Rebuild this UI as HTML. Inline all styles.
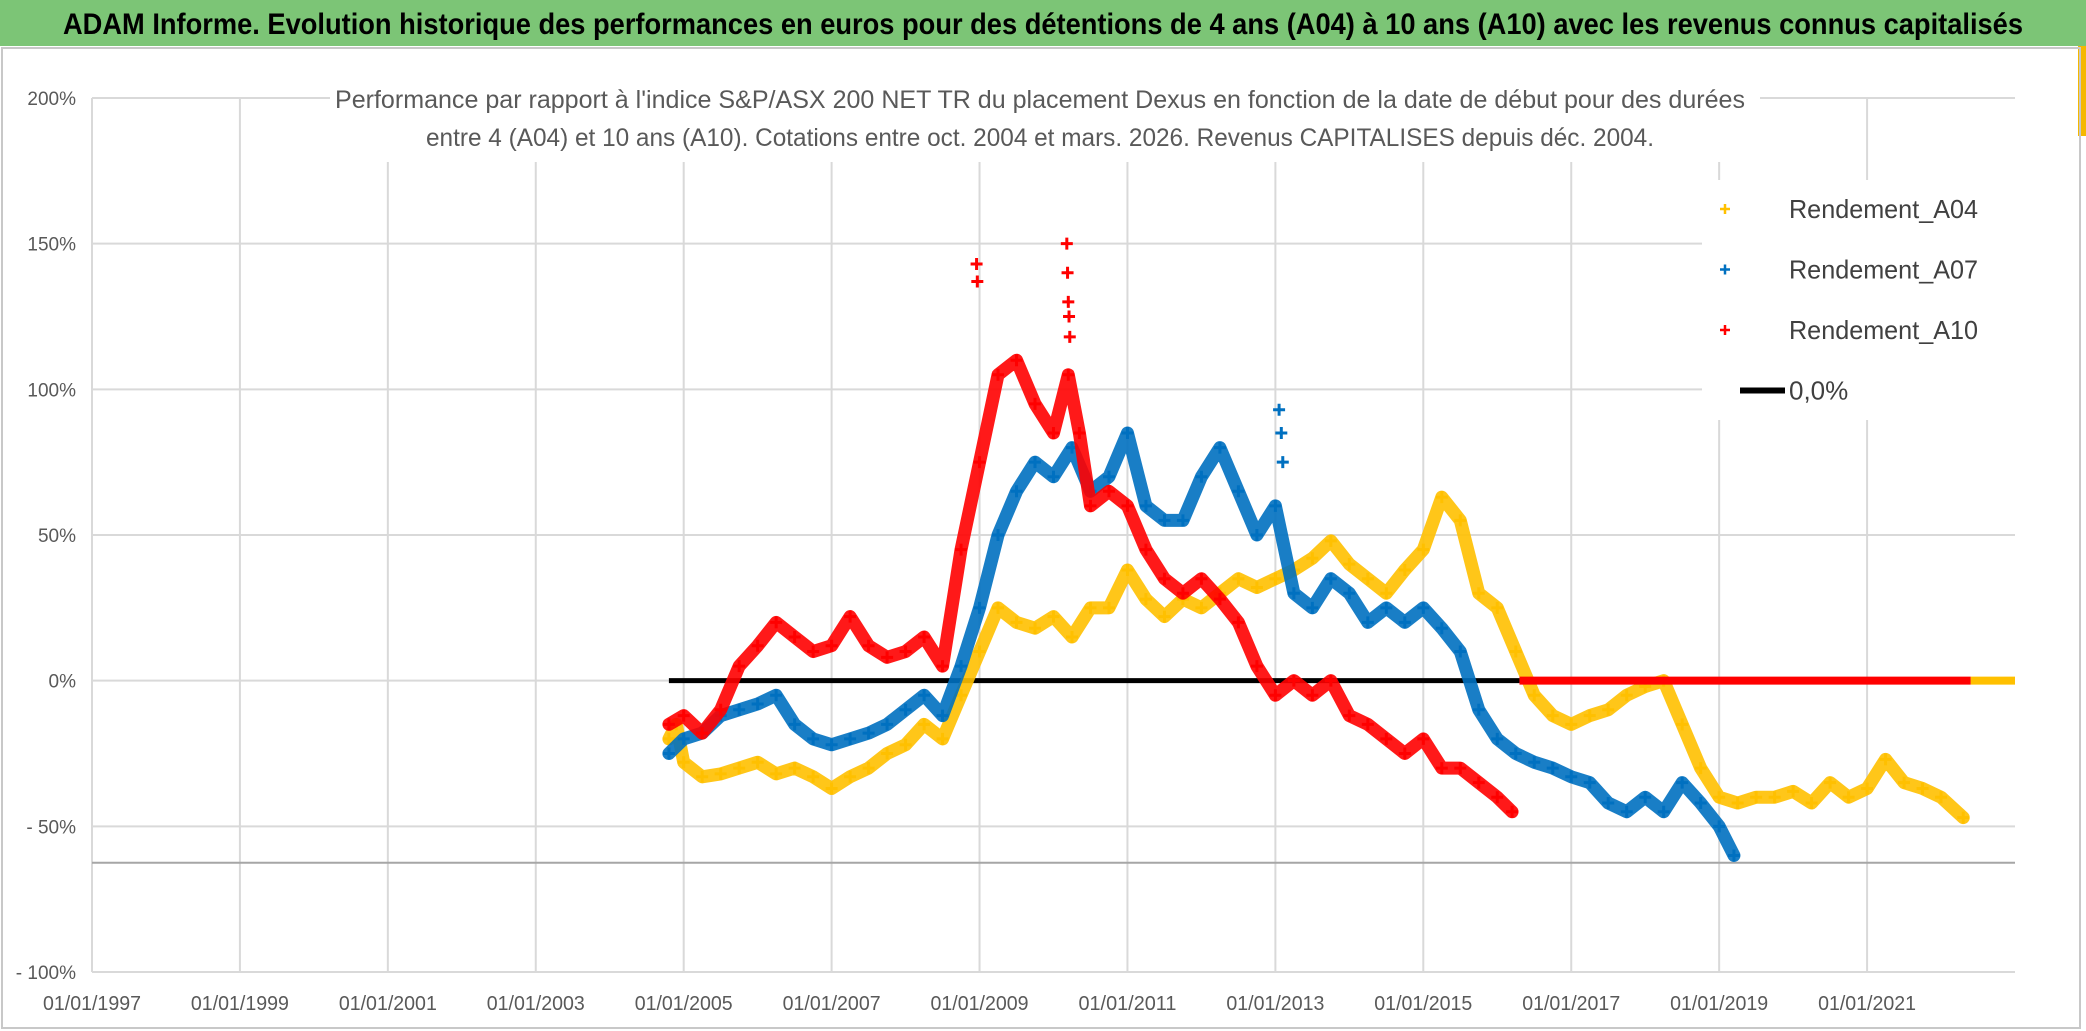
<!DOCTYPE html>
<html><head><meta charset="utf-8"><style>
html,body{margin:0;padding:0;background:#fff;}
svg{display:block;}
</style></head><body>
<svg id="chart" width="2086" height="1031" xmlns="http://www.w3.org/2000/svg" font-family="'Liberation Sans Narrow','Liberation Sans',sans-serif">
<rect x="0" y="0" width="2086" height="1031" fill="#fff"/>
<rect x="0" y="0" width="2086" height="46" fill="#7cc576"/>
<rect x="2078" y="46" width="8" height="90" fill="#f5b800"/>
<rect x="2" y="48" width="2078" height="980" fill="none" stroke="#c8c8c8" stroke-width="2"/>
<text x="1043" y="34" text-anchor="middle" font-size="30" font-weight="bold" fill="#000" textLength="1960" lengthAdjust="spacingAndGlyphs">ADAM Informe. Evolution historique des performances en euros pour des détentions de 4 ans (A04) à 10 ans (A10) avec les revenus connus capitalisés</text>
<g id="grid"></g>
<rect x="330" y="78" width="1430" height="84" fill="#fff"/>
<text x="1040" y="108" text-anchor="middle" font-size="25" fill="#595959" textLength="1410" lengthAdjust="spacingAndGlyphs">Performance par rapport à l'indice S&amp;P/ASX 200 NET TR  du placement Dexus en fonction de la date de début pour des durées</text>
<text x="1040" y="146" text-anchor="middle" font-size="25" fill="#595959" textLength="1228" lengthAdjust="spacingAndGlyphs">entre 4 (A04) et 10 ans (A10). Cotations entre oct. 2004 et mars. 2026. Revenus CAPITALISES depuis déc. 2004.</text>
<g id="series"></g>
<g id="legend">
<rect x="1702" y="180" width="313" height="240" fill="#fff"/>
</g>
</svg>
<script>
const yearTicks = [1997,1999,2001,2003,2005,2007,2009,2011,2013,2015,2017,2019,2021];
const pctTicks = [200,150,100,50,0,-50,-100];
const pctLabels = ['200%','150%','100%','50%','0%','- 50%','- 100%'];
const a04Years = [2004.8,2004.9,2005.0,2005.25,2005.5,2005.75,2006.0,2006.25,2006.5,2006.75,2007.0,2007.25,2007.5,2007.75,2008.0,2008.25,2008.5,2008.75,2009.0,2009.25,2009.5,2009.75,2010.0,2010.25,2010.5,2010.75,2011.0,2011.25,2011.5,2011.75,2012.0,2012.25,2012.5,2012.75,2013.0,2013.25,2013.5,2013.75,2014.0,2014.25,2014.5,2014.75,2015.0,2015.25,2015.5,2015.75,2016.0,2016.25,2016.5,2016.75,2017.0,2017.25,2017.5,2017.75,2018.0,2018.25,2018.5,2018.75,2019.0,2019.25,2019.5,2019.75,2020.0,2020.25,2020.5,2020.75,2021.0,2021.25,2021.5,2021.75,2022.0,2022.3];
const a04Values = [-20,-15,-28,-33,-32,-30,-28,-32,-30,-33,-37,-33,-30,-25,-22,-15,-20,-5,10,25,20,18,22,15,25,25,38,28,22,28,25,30,35,32,35,38,42,48,40,35,30,38,45,63,55,30,25,10,-5,-12,-15,-12,-10,-5,-2,0,-15,-30,-40,-42,-40,-40,-38,-42,-35,-40,-37,-27,-35,-37,-40,-47];
const a07Years = [2004.8,2005.0,2005.25,2005.5,2005.75,2006.0,2006.25,2006.5,2006.75,2007.0,2007.25,2007.5,2007.75,2008.0,2008.25,2008.5,2008.75,2009.0,2009.25,2009.5,2009.75,2010.0,2010.25,2010.5,2010.75,2011.0,2011.25,2011.5,2011.75,2012.0,2012.25,2012.5,2012.75,2013.0,2013.25,2013.5,2013.75,2014.0,2014.25,2014.5,2014.75,2015.0,2015.25,2015.5,2015.75,2016.0,2016.25,2016.5,2016.75,2017.0,2017.25,2017.5,2017.75,2018.0,2018.25,2018.5,2018.75,2019.0,2019.2];
const a07Values = [-25,-20,-18,-12,-10,-8,-5,-15,-20,-22,-20,-18,-15,-10,-5,-12,5,25,50,65,75,70,80,65,70,85,60,55,55,70,80,65,50,60,30,25,35,30,20,25,20,25,18,10,-10,-20,-25,-28,-30,-33,-35,-42,-45,-40,-45,-35,-42,-50,-60];
const a07OutlierYears = [2013.05,2013.08,2013.1];
const a07OutlierValues = [93,85,75];
const a10Years = [2004.8,2005.0,2005.25,2005.5,2005.75,2006.0,2006.25,2006.5,2006.75,2007.0,2007.25,2007.5,2007.75,2008.0,2008.25,2008.5,2008.75,2009.0,2009.25,2009.5,2009.75,2010.0,2010.2,2010.35,2010.5,2010.75,2011.0,2011.25,2011.5,2011.75,2012.0,2012.25,2012.5,2012.75,2013.0,2013.25,2013.5,2013.75,2014.0,2014.25,2014.5,2014.75,2015.0,2015.25,2015.5,2015.75,2016.0,2016.2];
const a10Values = [-15,-12,-18,-10,5,12,20,15,10,12,22,12,8,10,15,5,45,75,105,110,95,85,105,85,60,65,60,45,35,30,35,28,20,5,-5,0,-5,0,-12,-15,-20,-25,-20,-30,-30,-35,-40,-45];
const a10OutlierYears = [2008.96,2008.97,2010.18,2010.19,2010.2,2010.21,2010.22];
const a10OutlierValues = [143,137,150,140,130,125,118];
const zeroLineRange = [2004.8,2016.3];
const a10ZeroRange = [2016.3,2023.0];
const a04ZeroRange = [2022.4,2023.0];
const legendNames = ['Rendement_A04','Rendement_A07','Rendement_A10','0,0%'];

const X0=92,X1=2015,Y0=98,Y1=972;
const xMin=1997,xMax=2023,yMin=-100,yMax=200;
function xs(v){return X0+(v-xMin)/(xMax-xMin)*(X1-X0);}
function ys(v){return Y1-(v-yMin)/(yMax-yMin)*(Y1-Y0);}
const NS='http://www.w3.org/2000/svg';
function mk(tag,attrs,parent){const e=document.createElementNS(NS,tag);for(const k in attrs)e.setAttribute(k,attrs[k]);parent.appendChild(e);return e;}
const grid=document.getElementById('grid');
pctTicks.forEach((p,i)=>{
  const l=mk('line',{x1:X0,x2:X1,y1:ys(p),y2:ys(p),stroke:'#d9d9d9','stroke-width':2},grid);
  
  
  const t=mk('text',{x:76,y:ys(p)+7,'text-anchor':'end','font-size':19,fill:'#595959'},grid);
  t.textContent=pctLabels[i];
  
  
});
yearTicks.forEach(y=>{
  const l=mk('line',{x1:xs(y),x2:xs(y),y1:Y0,y2:Y1,stroke:'#d9d9d9','stroke-width':2},grid);
  
  
  const t=mk('text',{x:xs(y),y:1010,'text-anchor':'middle','font-size':20,fill:'#595959',textLength:98,lengthAdjust:'spacingAndGlyphs'},grid);
  t.textContent='01/01/'+y;
  
  
});
const axis=mk('line',{x1:X0,x2:X1,y1:ys(-62.5),y2:ys(-62.5),stroke:'#a6a6a6','stroke-width':2},grid);



const ser=document.getElementById('series');
function drawPoints(g,name,years,vals,color){
  years.forEach((y,i)=>{
    const cx=xs(y),cy=ys(vals[i]);
    const p=mk('path',{d:`M${cx-6},${cy}h12M${cx},${cy-6}v12`,stroke:color,'stroke-width':3},g);
    
    
  });
}
function drawSeries(name,years,vals,color,oy,ov){
  const g=mk('g',{},ser);
  
  
  const pts=years.map((y,i)=>xs(y)+','+ys(vals[i])).join(' ');
  mk('polyline',{points:pts,fill:'none',stroke:color,'stroke-width':13,'stroke-linejoin':'round','stroke-linecap':'round',opacity:0.9},g);
  drawPoints(g,name,years,vals,color);
  if(oy) drawPoints(g,name,oy,ov,color);
}
const zl=mk('line',{x1:xs(zeroLineRange[0]),x2:xs(zeroLineRange[1]),y1:ys(0),y2:ys(0),stroke:'#000','stroke-width':5},ser);


drawSeries('series-a04',a04Years,a04Values,'#ffc000');
drawSeries('series-a07',a07Years,a07Values,'#0070c0',a07OutlierYears,a07OutlierValues);
drawSeries('series-a10',a10Years,a10Values,'#ff0000',a10OutlierYears,a10OutlierValues);
const z4=mk('line',{x1:xs(a04ZeroRange[0]),x2:xs(a04ZeroRange[1]),y1:ys(0),y2:ys(0),stroke:'#ffc000','stroke-width':8},ser);


const z10=mk('line',{x1:xs(a10ZeroRange[0]),x2:xs(a04ZeroRange[0]),y1:ys(0),y2:ys(0),stroke:'#ff0000','stroke-width':8},ser);



const lg=document.getElementById('legend');
const lcol=['#ffc000','#0070c0','#ff0000','#000'];
legendNames.forEach((n,i)=>{
  const y=209+i*60.5;
  const g=mk('g',{},lg);
  
  
  if(i<3){mk('path',{d:`M${1720},${y}h10M${1725},${y-5}v10`,stroke:lcol[i],'stroke-width':2.5},g);}
  else{mk('line',{x1:1740,x2:1785,y1:y,y2:y,stroke:'#000','stroke-width':6},g);}
  const t=mk('text',{x:1789,y:y+9,'font-size':26,fill:'#404040'},g);
  if(i<3){t.setAttribute('textLength',189);t.setAttribute('lengthAdjust','spacingAndGlyphs');}
  t.textContent=n;
});
</script>
</body></html>
